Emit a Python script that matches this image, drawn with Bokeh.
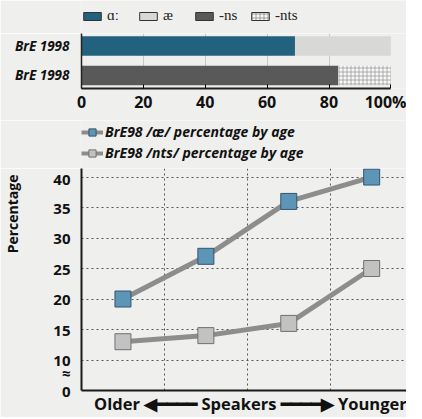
from bokeh.plotting import figure
from bokeh.models import ColumnDataSource, Range1d, Legend, LegendItem, FixedTicker
from bokeh.layouts import column
from bokeh.embed import file_html
from bokeh.resources import INLINE

# ---------------- data: top stacked bar chart ----------------
row_labels = ["BrE 1998", "BrE 1998"]
row_pos = [1, 0]
aa_long = [69, 0]    # ɑː
ae_short = [31, 0]   # æ
ns_vals = [0, 83]    # -ns
nts_vals = [0, 17]   # -nts
bar_legend = ["ɑː", "æ", "-ns", "-nts"]
top_ticks = [0, 20, 40, 60, 80, 100]

# ---------------- data: bottom line chart ----------------
age_pos = [0.5, 1.5, 2.5, 3.5]          # older -> younger
ae_pct = [20, 27, 36, 40]
nts_pct = [13, 14, 16, 25]
y_ticks = [5, 7.9, 10, 15, 20, 25, 30, 35, 40]
y_tick_labels = ["0", "\u2248", "10", "15", "20", "25", "30", "35", "40"]
line_legend = ["BrE98 /æ/ percentage by age", "BrE98 /nts/ percentage by age"]

BG = "#efefed"
SANS = "Open Sans"
BAR_COLORS = ["#23627f", "#d8d8d6", "#595959", "#f8f8f8"]
NAN = float("nan")
NB = "\u00a0"


def legend_strip(height):
    f = figure(width=406, height=height, x_range=Range1d(0, 1), y_range=Range1d(0, 1),
               output_backend="svg", toolbar_location=None,
               x_axis_location=None, y_axis_location=None,
               min_border_left=0, min_border_right=0, min_border_top=0, min_border_bottom=0)
    f.background_fill_color = BG
    f.border_fill_color = BG
    f.outline_line_color = None
    f.xgrid.grid_line_color = None
    f.ygrid.grid_line_color = None
    return f


# ================= legend strip for top chart (key swatches only, no data drawn) =================
lg1 = legend_strip(33)
key_src = ColumnDataSource(dict(y=[NAN], left=[NAN], right=[NAN]))
swatches = []
for i in range(4):
    r = lg1.hbar(y="y", left="left", right="right", height=1, source=key_src,
                 fill_color=BAR_COLORS[i], line_color="#333333", line_width=1)
    swatches.append(r)
swatches[3].glyph.hatch_pattern = "+"
swatches[3].glyph.hatch_color = "#8a8a8a"
swatches[3].glyph.hatch_scale = 4
swatches[3].glyph.hatch_weight = 0.8
leg1 = Legend(items=[LegendItem(label=bar_legend[i], renderers=[swatches[i]]) for i in range(4)],
              orientation="horizontal", location=(0, 9),
              glyph_width=22, glyph_height=10, label_standoff=4, label_width=26, spacing=4,
              padding=0, margin=0, label_height=16,
              label_text_font="Liberation Serif", label_text_font_size="15px",
              label_text_color="#222222",
              background_fill_alpha=0, border_line_color=None)
lg1.add_layout(leg1, "center")

# ================= top figure =================
p1 = figure(width=406, height=87, x_range=Range1d(0, 105.05), y_range=Range1d(-0.44, 1.42),
            output_backend="svg", toolbar_location=None,
            min_border_left=73, min_border_right=0, min_border_top=0, min_border_bottom=32)
p1.background_fill_color = BG
p1.border_fill_color = BG
p1.outline_line_color = None

src = ColumnDataSource(dict(y=row_pos, a=aa_long, ae=ae_short, ns=ns_vals, nts=nts_vals))
rs = p1.hbar_stack(["a", "ae", "ns", "nts"], y="y", height=0.66, source=src,
                   color=BAR_COLORS, line_color=None)
rs[3].glyph.hatch_pattern = "+"
rs[3].glyph.hatch_color = "#9a9a9a"
rs[3].glyph.hatch_scale = 4
rs[3].glyph.hatch_weight = 0.8

p1.xaxis.ticker = FixedTicker(ticks=top_ticks)
p1.xaxis.bounds = (0, 100)
p1.xaxis.major_label_overrides = {100: "100%"}
p1.xaxis.major_label_text_font = SANS
p1.xaxis.major_label_text_font_style = "bold"
p1.xaxis.major_label_text_font_size = "16px"
p1.xaxis.major_label_text_color = "#111111"
p1.xaxis.axis_line_width = 2
p1.xaxis.axis_line_color = "#222222"
p1.xaxis.major_tick_in = 4
p1.xaxis.major_tick_out = 0
p1.xaxis.minor_tick_line_color = None
p1.xaxis.major_label_standoff = 2

p1.yaxis.ticker = FixedTicker(ticks=row_pos)
p1.yaxis.major_label_overrides = {row_pos[i]: row_labels[i] for i in range(2)}
p1.yaxis.major_label_text_font = SANS
p1.yaxis.major_label_text_font_style = "bold italic"
p1.yaxis.major_label_text_font_size = "13.5px"
p1.yaxis.major_label_text_color = "#111111"
p1.yaxis.major_tick_line_color = None
p1.yaxis.minor_tick_line_color = None
p1.yaxis.axis_line_color = "#222222"
p1.yaxis.axis_line_width = 1.5
p1.yaxis.major_label_standoff = 6

p1.ygrid.grid_line_color = None
p1.xgrid.ticker = FixedTicker(ticks=[20, 40, 60, 80])
p1.xgrid.grid_line_color = "#c8c8c8"
p1.xgrid.grid_line_width = 1

# ================= bottom figure =================
p2 = figure(width=406, height=249, x_range=Range1d(0, 3.92), y_range=Range1d(5, 41.4),
            output_backend="svg", toolbar_location=None,
            min_border_left=73, min_border_right=0, min_border_top=0, min_border_bottom=26)
p2.background_fill_color = BG
p2.border_fill_color = BG
p2.outline_line_color = None

l1 = p2.line(age_pos, ae_pct, line_color="#8d8d8d", line_width=5)
s1 = p2.scatter(age_pos, ae_pct, marker="square", size=16, fill_color="#5d95b6",
                line_color="#34556a", line_width=1)
l2 = p2.line(age_pos, nts_pct, line_color="#8d8d8d", line_width=5)
s2 = p2.scatter(age_pos, nts_pct, marker="square", size=16, fill_color="#c2c2c2",
                line_color="#707070", line_width=1)

# ================= legend strip for bottom chart =================
lg2 = legend_strip(48)
e2 = ColumnDataSource(dict(x=[NAN], y=[NAN]))
ll1 = lg2.line("x", "y", source=e2, line_color="#8d8d8d", line_width=4)
ls1 = lg2.scatter("x", "y", source=e2, marker="square", size=15, fill_color="#5d95b6",
                  line_color="#34556a", line_width=1)
ll2 = lg2.line("x", "y", source=e2, line_color="#8d8d8d", line_width=4)
ls2 = lg2.scatter("x", "y", source=e2, marker="square", size=15, fill_color="#c2c2c2",
                  line_color="#707070", line_width=1)
leg2 = Legend(items=[LegendItem(label=line_legend[0], renderers=[ll1, ls1]),
                     LegendItem(label=line_legend[1], renderers=[ll2, ls2])],
              location=(0, 6), glyph_width=22, glyph_height=18, label_height=18,
              label_standoff=2, spacing=2, padding=0, margin=0,
              label_text_font=SANS, label_text_font_style="bold italic",
              label_text_font_size="14px", label_text_color="#111111",
              background_fill_alpha=0, border_line_color=None)
lg2.add_layout(leg2, "center")

p2.yaxis.ticker = FixedTicker(ticks=y_ticks)
p2.yaxis.major_label_overrides = {y_ticks[i]: y_tick_labels[i] for i in range(len(y_ticks))}
p2.yaxis.major_label_text_font = SANS
p2.yaxis.major_label_text_font_style = "bold"
p2.yaxis.major_label_text_font_size = "15px"
p2.yaxis.major_label_text_color = "#111111"
p2.yaxis.major_tick_line_color = None
p2.yaxis.minor_tick_line_color = None
p2.yaxis.major_label_standoff = 5
p2.yaxis.axis_line_width = 2
p2.yaxis.axis_line_color = "#1a1a1a"
p2.yaxis.axis_label = "Percentage" + NB * 25
p2.yaxis.axis_label_text_font = SANS
p2.yaxis.axis_label_text_font_style = "bold"
p2.yaxis.axis_label_text_font_size = "14px"
p2.yaxis.axis_label_text_color = "#111111"
p2.yaxis.axis_label_standoff = 28
if "axis_label_align" in p2.yaxis[0].properties():
    p2.yaxis.axis_label_align = "end"

p2.xaxis.ticker = FixedTicker(ticks=[])
p2.xaxis.major_tick_line_color = None
p2.xaxis.minor_tick_line_color = None
p2.xaxis.major_label_text_font_size = "0px"
p2.xaxis.major_label_standoff = 0
p2.xaxis.axis_line_width = 2
p2.xaxis.axis_line_color = "#1a1a1a"
p2.xaxis.axis_label = (NB * 3 + "Older \u25c0\u2501\u2501\u2501\u2501 Speakers "
                       "\u2501\u2501\u2501\u2501\u25b6 Younger")
p2.xaxis.axis_label_text_font = SANS
p2.xaxis.axis_label_text_font_style = "bold"
p2.xaxis.axis_label_text_font_size = "16.5px"
p2.xaxis.axis_label_text_color = "#111111"
p2.xaxis.axis_label_standoff = 1

p2.ygrid.ticker = FixedTicker(ticks=[10, 15, 20, 25, 30, 35, 40])
p2.ygrid.grid_line_color = "#555555"
p2.ygrid.grid_line_dash = "2 3"
p2.ygrid.grid_line_width = 1
p2.xgrid.ticker = FixedTicker(ticks=[1, 2, 3])
p2.xgrid.grid_line_color = "#555555"
p2.xgrid.grid_line_dash = "2 3"
p2.xgrid.grid_line_width = 1

layout = column(lg1, p1, lg2, p2, spacing=0)
open("out.html", "w").write(file_html(layout, INLINE))
